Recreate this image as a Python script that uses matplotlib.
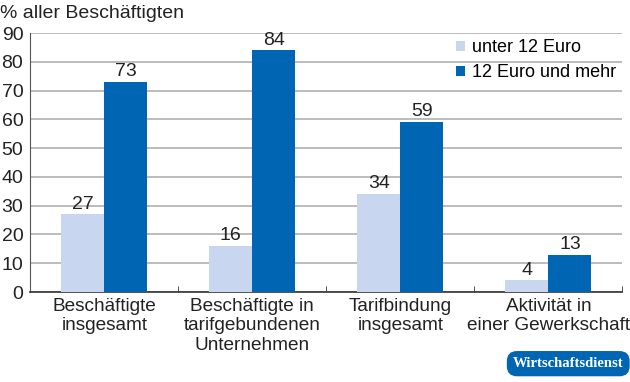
import matplotlib
matplotlib.use("Agg")
from matplotlib import pyplot as plt
import numpy as np

plt.rcParams['font.family'] = ['Liberation Sans', 'DejaVu Sans']

categories = ["Beschäftigte\ninsgesamt", "Beschäftigte in\ntarifgebundenen\nUnternehmen",
              "Tarifbindung\ninsgesamt", "Aktivität in\neiner Gewerkschaft"]
unter_12 = [27, 16, 34, 4]
ab_12 = [73, 84, 59, 13]
series_names = ["unter 12 Euro", "12 Euro und mehr"]
yticks = [0, 10, 20, 30, 40, 50, 60, 70, 80, 90]

light = "#c8d6ef"
dark = "#0066b3"
fs = 14

fig = plt.figure(figsize=(6.3, 3.82), dpi=100)
ax = fig.add_axes([0.048, 0.2356, 0.94, 0.678])

x = np.arange(len(categories))
w = 0.29
b1 = ax.bar(x - w/2, unter_12, w, color=light, label=series_names[0], zorder=3)
b2 = ax.bar(x + w/2, ab_12, w, color=dark, label=series_names[1], zorder=3)

for bars, vals in [(b1, unter_12), (b2, ab_12)]:
    for r, v in zip(bars, vals):
        ax.text(r.get_x() + r.get_width()/2, v + 0.6, str(v), ha="center", va="bottom",
                fontsize=fs, color="#222222", zorder=4)

ax.set_xlim(-0.5, len(categories) - 0.5)
ax.set_ylim(0, 90)
ax.set_yticks(yticks)
ax.yaxis.grid(True, color="#b0b0b0", linewidth=1.2, zorder=0)
ax.set_axisbelow(True)
for s in ["top", "right"]:
    ax.spines[s].set_visible(False)
ax.spines["left"].set_color("#555555")
ax.spines["bottom"].set_color("#333333")
ax.spines["bottom"].set_linewidth(1.2)

ax.set_xticks(x)
ax.set_xticklabels(categories, fontsize=13.7, color="#222222", linespacing=1.2)
ax.set_xticks(np.arange(len(categories) + 1) - 0.5, minor=True)
ax.tick_params(axis="x", which="major", length=0, pad=4)
ax.tick_params(axis="x", which="minor", length=4, color="#333333", direction="in")
ax.tick_params(axis="y", length=0, pad=5, labelsize=fs, labelcolor="#222222")
# last label reaches the right edge, nudge it a touch left
ax.get_xticklabels()[-1].set_x(3 - 0.02)

leg = ax.legend(loc="upper right", bbox_to_anchor=(1.0, 1.0), frameon=False, fontsize=13,
                handlelength=0.5, handleheight=0.5, handletextpad=0.4, labelspacing=0.45,
                borderaxespad=0.0, borderpad=0.35)

fig.text(0.0, 0.965, "% aller Beschäftigten", fontsize=fs, color="#222222", va="center", ha="left")

fig.text(0.902, 0.048, "Wirtschaftsdienst", fontsize=10.5, color="white", ha="center", va="center",
         family="Liberation Serif", weight="bold",
         bbox=dict(boxstyle="round,pad=0.42,rounding_size=0.7", facecolor=dark, edgecolor="none"))

fig.savefig("out.png", dpi=100)
